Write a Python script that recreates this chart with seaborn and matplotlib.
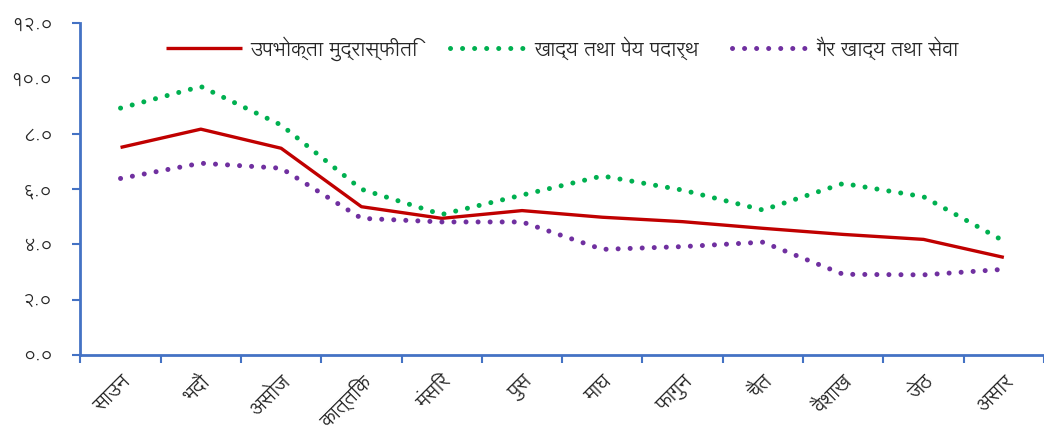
import matplotlib
matplotlib.use("Agg")
import matplotlib.pyplot as plt
from matplotlib.ticker import FixedLocator
import seaborn as sns
import pandas as pd

# months (Nepali fiscal year) and the three inflation series
months = ["साउन", "भदौ", "असोज", "कात्तिक", "मंसिर", "पुस",
          "माघ", "फागुन", "चैत", "वैशाख", "जेठ", "असार"]
consumer = [7.50, 8.16, 7.47, 5.36, 4.94, 5.22, 4.98, 4.82, 4.58, 4.36, 4.18, 3.53]
food = [8.92, 9.70, 8.31, 5.99, 5.08, 5.78, 6.47, 5.96, 5.24, 6.20, 5.72, 4.12]
nonfood = [6.38, 6.93, 6.75, 4.94, 4.81, 4.81, 3.82, 3.92, 4.08, 2.92, 2.90, 3.10]

series_names = ["उपभोक्ता मुद्रास्फीति", "खाद्य तथा पेय पदार्थ", "गैर खाद्य तथा सेवा"]
ytick_vals = [0, 2, 4, 6, 8, 10, 12]
ytick_labels = ["०.०", "२.०", "४.०", "६.०", "८.०", "१०.०", "१२.०"]

df = pd.DataFrame({
    "pos": list(range(len(months))) * 3,
    "value": consumer + food + nonfood,
    "series": [s for s in series_names for _ in months],
})

sns.set_style("white")
plt.rcParams["font.family"] = ["Lohit Devanagari", "Noto Sans", "DejaVu Sans"]

fig = plt.figure(figsize=(10.44, 4.3), dpi=100)
ax = fig.add_axes([0.077, 0.174, 0.923, 0.773])

colors = ["#C00000", "#00B050", "#7030A0"]
for name, col in zip(series_names, colors):
    sub = df[df["series"] == name]
    if col == "#C00000":
        sns.lineplot(data=sub, x="pos", y="value", color=col, lw=2.4, ax=ax,
                     label=name, solid_capstyle="butt")
    else:
        sns.lineplot(data=sub, x="pos", y="value", color=col, lw=3.6, ax=ax,
                     label=name, linestyle=(0, (0.01, 2.4)), dash_capstyle="round")

ax.set_xlim(-0.5, len(months) - 0.5)
ax.set_ylim(0, 12)
ax.set_xlabel("")
ax.set_ylabel("")

ax.set_yticks(ytick_vals)
ax.set_yticklabels(ytick_labels, fontsize=13.5)
ax.set_xticks(range(len(months)))
ax.set_xticklabels(months, rotation=45, ha="right", rotation_mode="anchor", fontsize=14.5)
ax.xaxis.set_minor_locator(FixedLocator([i - 0.5 for i in range(len(months) + 1)]))
ax.tick_params(axis="x", which="major", bottom=True, length=0, pad=12)
ax.tick_params(axis="x", which="minor", bottom=True, length=6, width=1.5,
               color="#4472C4", direction="out")
ax.tick_params(axis="y", left=True, length=6, width=1.5, color="#4472C4",
               direction="out", pad=14)

for side in ["top", "right"]:
    ax.spines[side].set_visible(False)
for side in ["left", "bottom"]:
    ax.spines[side].set_color("#4472C4")
    ax.spines[side].set_linewidth(2)

ax.legend(loc="upper center", bbox_to_anchor=(0.5, 1.015), ncol=3, frameon=False,
          fontsize=14.5, handlelength=3.8, columnspacing=1.6, handletextpad=0.4)

fig.savefig("out.png", dpi=100)
